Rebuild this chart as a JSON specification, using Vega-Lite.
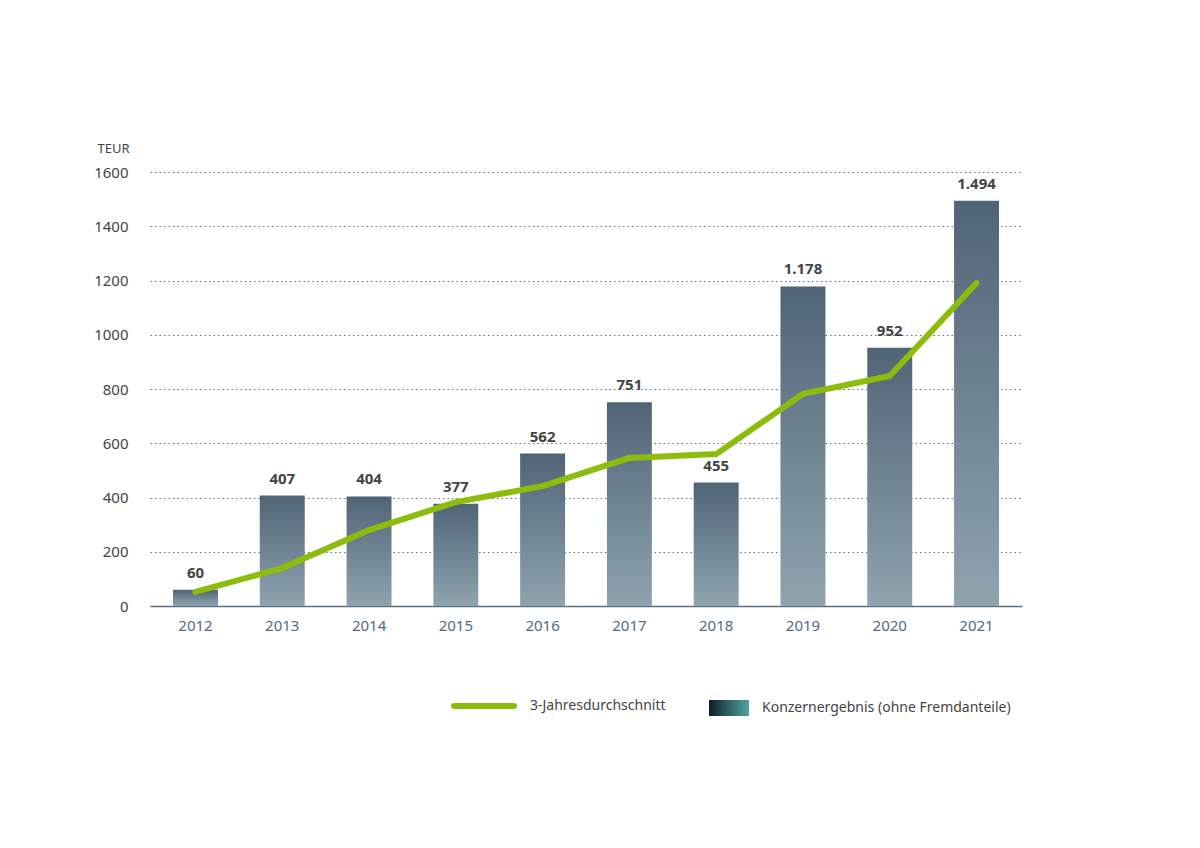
{
  "$schema": "https://vega.github.io/schema/vega-lite/v6.json",
  "width": 872,
  "height": 434,
  "autosize": "none",
  "padding": {"left": 150, "top": 172, "right": 178, "bottom": 242},
  "background": "white",
  "config": {
    "view": {"stroke": null},
    "font": "Noto Sans",
    "locale": {"number": {"decimal": ",", "thousands": ".", "grouping": [3], "currency": ["", " €"]}}
  },
  "data": {
    "values": [
      {"year": "2012", "value": 60, "avg": 52},
      {"year": "2013", "value": 407, "avg": 140},
      {"year": "2014", "value": 404, "avg": 280},
      {"year": "2015", "value": 377, "avg": 383},
      {"year": "2016", "value": 562, "avg": 442},
      {"year": "2017", "value": 751, "avg": 546},
      {"year": "2018", "value": 455, "avg": 560},
      {"year": "2019", "value": 1178, "avg": 782},
      {"year": "2020", "value": 952, "avg": 848},
      {"year": "2021", "value": 1494, "avg": 1191}
    ]
  },
  "encoding": {
    "x": {
      "field": "year",
      "type": "ordinal",
      "scale": {"paddingInner": 0.482, "paddingOuter": 0.265},
      "axis": {
        "title": null,
        "labelAngle": 0,
        "labelFontSize": 15,
        "labelColor": "#566a7e",
        "labelPadding": 12,
        "ticks": false,
        "domainColor": "#5d7082",
        "domainWidth": 1.5
      }
    }
  },
  "layer": [
    {
      "mark": {
        "type": "bar",
        "color": {
          "gradient": "linear",
          "x1": 0, "y1": 0, "x2": 0, "y2": 1,
          "stops": [
            {"offset": 0, "color": "#506477"},
            {"offset": 1, "color": "#8fa4af"}
          ]
        }
      },
      "encoding": {
        "y": {
          "field": "value",
          "type": "quantitative",
          "scale": {"domain": [0, 1600], "nice": false},
          "axis": {
            "title": "TEUR",
            "titleAngle": 0,
            "titleAlign": "left",
            "titleBaseline": "middle",
            "titleX": -53,
            "titleY": -24,
            "titleFontSize": 13,
            "titleFontWeight": "normal",
            "titleColor": "#444444",
            "values": [0, 100, 200, 300, 400, 500, 600, 700, 800, 900, 1000, 1100, 1200, 1300, 1400, 1500, 1600],
            "labelExpr": "datum.value % 200 === 0 ? format(datum.value, 'd') : ''",
            "labelFontSize": 15,
            "labelColor": "#444444",
            "labelPadding": 22,
            "ticks": false,
            "domain": false,
            "grid": true,
            "gridColor": "#5b7391",
            "gridDash": [1.5, 3],
            "gridWidth": 1
          }
        }
      }
    },
    {
      "mark": {"type": "text", "baseline": "bottom", "dy": -9, "fontSize": 15, "fontWeight": "bold", "color": "#444444"},
      "encoding": {
        "y": {"field": "value", "type": "quantitative"},
        "text": {"field": "value", "type": "quantitative", "format": ",d"}
      }
    },
    {
      "mark": {"type": "line", "strokeWidth": 6, "strokeCap": "round", "strokeJoin": "round"},
      "encoding": {
        "y": {"field": "avg", "type": "quantitative"},
        "color": {
          "datum": "3-Jahresdurchschnitt",
          "type": "nominal",
          "scale": {
            "domain": ["3-Jahresdurchschnitt", "Konzernergebnis (ohne Fremdanteile)"],
            "range": ["#8dbd0c", "#1b3040"]
          },
          "legend": {
            "title": null,
            "orient": "none",
            "direction": "horizontal",
            "legendX": 327,
            "legendY": 527,
            "padding": 0,
            "labelFontSize": 14,
            "labelColor": "#444444",
            "labelOffset": 39,
            "labelLimit": 0,
            "columnPadding": 43,
            "symbolSize": 3600,
            "symbolStrokeWidth": 6,
            "encode": {
              "symbols": {
                "update": {
                  "shape": {"signal": "datum.value === '3-Jahresdurchschnitt' ? 'stroke' : 'M-0.35,-0.4H1.65V0.4H-0.35Z'"},
                  "size": {"signal": "datum.value === '3-Jahresdurchschnitt' ? 3600 : 1600"},
                  "strokeWidth": {"signal": "datum.value === '3-Jahresdurchschnitt' ? 6 : 0"},
                  "strokeCap": {"value": "round"},
                  "fill": {"signal": "datum.value === '3-Jahresdurchschnitt' ? 'transparent' : {gradient: 'linear', x1: 0, y1: 0, x2: 1, y2: 0, stops: [{offset: 0, color: '#0f1c2b'}, {offset: 1, color: '#4ea7a0'}]}"},
                  "opacity": {"value": 1}
                }
              }
            }
          }
        }
      }
    }
  ]
}
